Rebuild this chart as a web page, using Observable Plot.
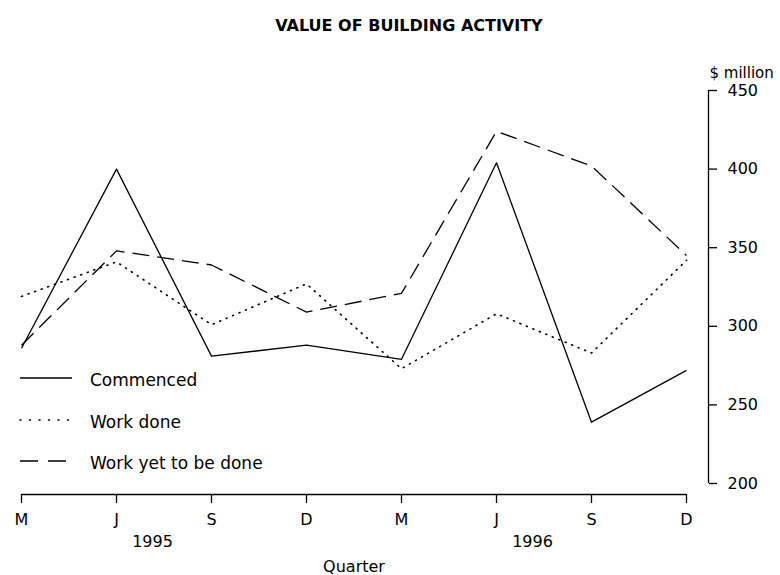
<!DOCTYPE html>
<html>
<head>
<meta charset="utf-8">
<script src="https://cdn.jsdelivr.net/npm/d3@7"></script>
<script src="https://cdn.jsdelivr.net/npm/@observablehq/plot@0.6"></script>
<style>
  html, body { margin: 0; padding: 0; background: #fff; }
  #chart { width: 780px; height: 575px; }
</style>
</head>
<body>
<div id="chart"></div>
<script>
// ---- data ----
const quarters = ["Mar 1995", "Jun 1995", "Sep 1995", "Dec 1995", "Mar 1996", "Jun 1996", "Sep 1996", "Dec 1996"];
const quarterTickLabels = ["M", "J", "S", "D", "M", "J", "S", "D"];
const years = ["1995", "1996"];
const yearQuarters = ["Jun 1995", "Jun 1996"];
const commenced = [286, 400, 281, 288, 279, 404, 239, 272];
const workDone = [319, 341, 301, 327, 273, 308, 283, 342];
const workYetToBeDone = [288, 348, 339, 309, 321, 424, 402, 345];
const yTicks = [200, 250, 300, 350, 400, 450];
const seriesNames = ["Commenced", "Work done", "Work yet to be done"];
const titleText = "VALUE OF BUILDING ACTIVITY";
const yLabel = "$ million";
const xLabel = "Quarter";

const dashes = { "Commenced": null, "Work done": "1,6", "Work yet to be done": "17,8" };
const legendDashes = { "Commenced": null, "Work done": "1,8.5", "Work yet to be done": "18,10" };

const toRows = (name, vals) => quarters.map((q, i) => ({ series: name, quarter: q, value: vals[i] }));
const rows = [
  ...toRows(seriesNames[0], commenced),
  ...toRows(seriesNames[1], workDone),
  ...toRows(seriesNames[2], workYetToBeDone)
];

const FONT = "DejaVu Sans";

const chart = Plot.plot({
  width: 780,
  height: 575,
  marginTop: 90,
  marginBottom: 81,
  marginLeft: 21,
  marginRight: 72,
  style: { fontFamily: FONT, fontSize: "16px", color: "#000", background: "#fff" },
  x: { type: "point", domain: quarters, padding: 0, insetRight: 22 },
  y: { domain: [200, 450], insetBottom: 11 },
  marks: [
    // axis lines
    Plot.ruleY([200], { x1: () => quarters[0], x2: () => quarters[quarters.length - 1], dy: 11, stroke: "#000", strokeWidth: 1.3 }),
    Plot.ruleX([quarters[quarters.length - 1]], { y1: 200, y2: 450, dx: 22, stroke: "#000", strokeWidth: 1.3 }),
    Plot.axisX({
      ticks: quarters,
      tickFormat: d => quarterTickLabels[quarters.indexOf(d)],
      tickSize: 9, tickPadding: 10, fontSize: 16, label: null, stroke: "#000", strokeWidth: 1.3
    }),
    Plot.axisY({
      anchor: "right", ticks: yTicks, tickSize: 8, tickPadding: 11, fontSize: 16,
      label: null, stroke: "#000", strokeWidth: 1.3
    }),
    // series lines
    ...seriesNames.map(name => Plot.line(rows.filter(r => r.series === name), {
      x: "quarter", y: "value", stroke: "#000", strokeWidth: name === "Work done" ? 1.6 : 1.3,
      strokeDasharray: dashes[name], strokeLinecap: name === "Work done" ? "round" : "butt"
    })),
    // year labels
    Plot.text(years, { x: (d, i) => yearQuarters[i], text: d => d, frameAnchor: "bottom", lineAnchor: "middle", dx: 36, dy: 47, fontSize: 16 }),
    // axis titles and chart title
    Plot.text([xLabel], { frameAnchor: "bottom", lineAnchor: "middle", dx: -11, dy: 72, fontSize: 16 }),
    Plot.text([yLabel], { frameAnchor: "top-right", lineAnchor: "bottom", textAnchor: "start", dx: 1, dy: -13, fontSize: 15 }),
    Plot.text([titleText], { frameAnchor: "top", lineAnchor: "middle", dx: 44, dy: -65, fontSize: 16, fontWeight: "bold", letterSpacing: "2px" })
  ]
});

document.getElementById("chart").appendChild(chart);

// legend (drawn inside the same SVG)
const svg = d3.select(chart);
const legendY = [378, 420, 461];
const lg = svg.append("g").attr("font-family", FONT).attr("font-size", 17).attr("text-anchor", "start");
seriesNames.forEach((name, i) => {
  lg.append("line")
    .attr("x1", 20).attr("x2", name === "Work yet to be done" ? 68 : 72)
    .attr("y1", legendY[i]).attr("y2", legendY[i])
    .attr("stroke", "#000")
    .attr("stroke-width", name === "Work done" ? 1.6 : 1.3)
    .attr("stroke-linecap", name === "Work done" ? "round" : "butt")
    .attr("stroke-dasharray", legendDashes[name]);
  lg.append("text")
    .attr("x", 90).attr("y", legendY[i] + 2)
    .attr("dy", "0.35em")
    .attr("text-anchor", "start")
    .attr("fill", "#000")
    .text(name);
});
</script>
</body>
</html>
